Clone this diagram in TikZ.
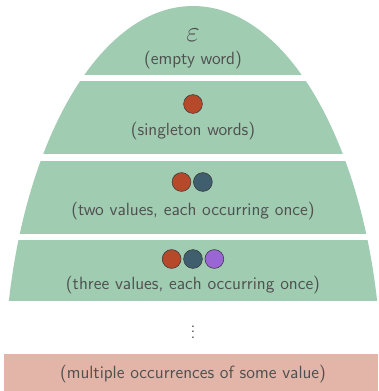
\documentclass[tikz,border=0pt]{standalone}
\usepackage{tikz}
\usepackage{xcolor}
\usetikzlibrary{positioning}
\definecolor{ink}{HTML}{505050}
\definecolor{bell}{HTML}{A0CCB1}
\definecolor{rose}{HTML}{E2B5A8}
\definecolor{rust}{HTML}{B5492A}
\definecolor{steel}{HTML}{3F5E6E}
\definecolor{lilac}{HTML}{9966D4}
\definecolor{rim}{HTML}{3A3A3A}
\tikzset{
  lbl/.style={text=ink,font=\sffamily\fontsize{12.6}{15}\selectfont,inner sep=0pt},
  val/.style={circle,draw=rim,line width=0.4pt,minimum size=0.47cm,inner sep=0pt},
  band/.style={fill=bell,draw=none}
}
\begin{document}
\begin{tikzpicture}[x=0.025cm,y=-0.025cm]
  \useasboundingbox (0,0) rectangle (378,391);
  % bell cut into four bands
  \foreach \top/\bot in {6/74,81/153,161/233,240/300}{
    \begin{scope}
      \clip (0,\top) rectangle (378,\bot);
      \fill[band] (193,384) ellipse [x radius=188.7,y radius=378];
    \end{scope}
  }
  \node[lbl,font=\fontsize{21}{24}\selectfont] (eps) at (193,35) {$\varepsilon$};
  \node[lbl] (empty) at (193,60) {(empty word)};
  \node[val,fill=rust] (a1) at (193,104) {};
  \node[lbl] (single) at (193,131) {(singleton words)};
  \node[val,fill=rust] (b1) at (181.5,182) {};
  \node[val,fill=steel,right=0.05cm of b1] (b2) {};
  \node[lbl] (two) at (193,211) {(two values, each occurring once)};
  \node[val,fill=steel] (c2) at (193,259) {};
  \node[val,fill=rust,left=0.05cm of c2] (c1) {};
  \node[val,fill=lilac,right=0.05cm of c2] (c3) {};
  \node[lbl] (three) at (193,285) {(three values, each occurring once)};
  \node[lbl] (more) at (193,328) {$\vdots$};
  % bottom strip
  \fill[rose] (4,354) rectangle (378,391);
  \node[lbl] (multi) at (193,374) {(multiple occurrences of some value)};
\end{tikzpicture}
\end{document}
